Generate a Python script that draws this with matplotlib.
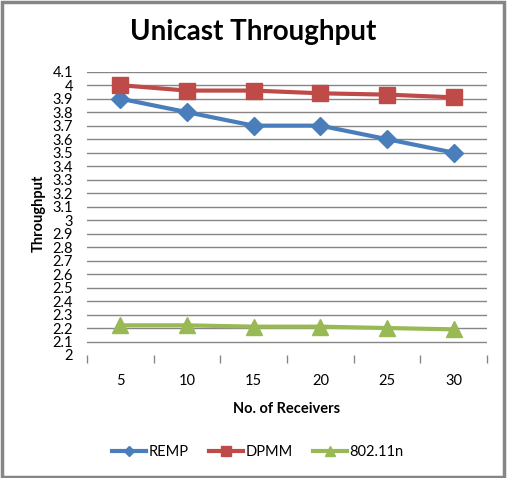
import matplotlib
matplotlib.use("Agg")
import matplotlib.pyplot as plt
from matplotlib.patches import Rectangle
import numpy as np

receivers = ["5", "10", "15", "20", "25", "30"]
remp = [3.9, 3.8, 3.7, 3.7, 3.6, 3.5]
dpmm = [4.0, 3.96, 3.96, 3.94, 3.93, 3.91]
wifi = [2.22, 2.22, 2.21, 2.21, 2.20, 2.19]
yticks = [2.0, 2.1, 2.2, 2.3, 2.4, 2.5, 2.6, 2.7, 2.8, 2.9, 3.0, 3.1, 3.2, 3.3,
          3.4, 3.5, 3.6, 3.7, 3.8, 3.9, 4.0, 4.1]
ytick_labels = ["2", "2.1", "2.2", "2.3", "2.4", "2.5", "2.6", "2.7", "2.8", "2.9", "3",
                "3.1", "3.2", "3.3", "3.4", "3.5", "3.6", "3.7", "3.8", "3.9", "4", "4.1"]

plt.rcParams['font.family'] = ['Lato', 'DejaVu Sans']

W, H = 510, 478
fig = plt.figure(figsize=(W / 100, H / 100), dpi=100)
ax = fig.add_axes([87 / W, 1 - 355 / H, 400 / W, (355 - 71.7) / H])

x = np.arange(len(receivers))
ax.plot(x, remp, color="#4a7ebb", lw=3, marker="D", ms=9, label="REMP", zorder=3)
ax.plot(x, dpmm, color="#be4b48", lw=3, marker="s", ms=11, label="DPMM", zorder=3)
ax.plot(x, wifi, color="#98b954", lw=3, marker="^", ms=12, label="802.11n", zorder=3)

ax.set_xlim(-0.5, len(receivers) - 0.5)
ax.set_ylim(2.0, 4.1)
ax.set_yticks(yticks)
ax.set_yticklabels(ytick_labels, fontsize=10.5)
ax.set_xticks(x)
ax.set_xticklabels(receivers, fontsize=10.5)
ax.set_xticks(np.arange(len(receivers) + 1) - 0.5, minor=True)
ax.tick_params(axis="x", which="major", length=0, pad=14)
ax.tick_params(axis="x", which="minor", length=6, color="#868686", width=1, direction="out")
ax.tick_params(axis="y", length=0, pad=10)
ax.grid(axis="y", color="#868686", lw=1)
ax.get_ygridlines()[0].set_visible(False)
for s in ax.spines.values():
    s.set_visible(False)

ax.set_ylabel("Throughput", fontsize=10.5, fontweight="bold", labelpad=5)
ax.set_xlabel("No. of Receivers", fontsize=10.5, fontweight="bold", labelpad=10)

fig.text(253 / W, 1 - 32 / H, "Unicast Throughput", fontsize=20, fontweight="bold",
         ha="center", va="center")

fig.legend(loc="center", bbox_to_anchor=(258 / W, 1 - 452 / H), ncol=3, frameon=False,
           fontsize=10.5, handlelength=2.3, columnspacing=1.4, handletextpad=0.2,
           markerscale=0.6)

fig.patches.append(Rectangle((2 / W, 1 / H), 502 / W, 475 / H, transform=fig.transFigure,
                             fill=False, edgecolor="#868686", lw=2.5))

fig.savefig("out.png", dpi=100)
